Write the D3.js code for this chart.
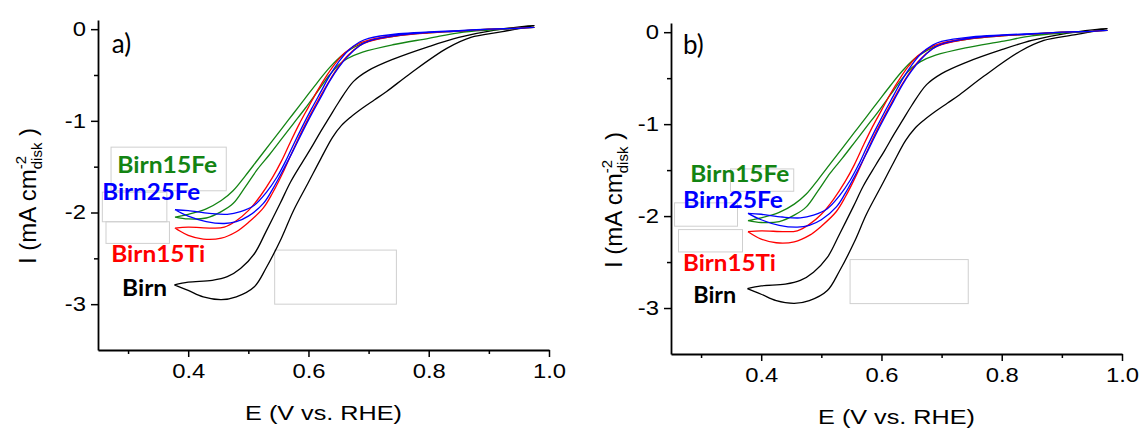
<!DOCTYPE html>
<html>
<head>
<meta charset="utf-8">
<script src="https://cdn.jsdelivr.net/npm/d3@7"></script>
<style>
body{margin:0;background:#fff;}
svg{display:block;}
</style>
</head>
<body>
<svg id="chart" width="1143" height="428"></svg>
<script>
// DATA - every CV loop is two branches, both listed from the low potential tip up to ~0.98 V
// points are [E (V vs RHE), I (mA cm-2 disk)]
const birnUpper = [[0.377,-2.79],[0.40,-2.76],[0.44,-2.74],[0.465,-2.70],[0.487,-2.61],[0.51,-2.45],[0.53,-2.20],[0.553,-1.90],[0.57,-1.67],[0.59,-1.45],[0.605,-1.29],[0.62,-1.12],[0.635,-0.96],[0.65,-0.80],[0.675,-0.57],[0.70,-0.45],[0.74,-0.33],[0.80,-0.19],[0.85,-0.09],[0.91,-0.01],[0.976,0.04]];
const birnLower = [[0.377,-2.79],[0.40,-2.85],[0.425,-2.92],[0.455,-2.95],[0.48,-2.92],[0.51,-2.81],[0.53,-2.60],[0.555,-2.28],[0.575,-1.98],[0.60,-1.67],[0.62,-1.42],[0.64,-1.18],[0.655,-1.05],[0.67,-0.96],[0.69,-0.86],[0.71,-0.77],[0.73,-0.68],[0.77,-0.48],[0.83,-0.21],[0.87,-0.09],[0.92,-0.03],[0.975,0.02]];
const ti15Upper = [[0.378,-2.17],[0.40,-2.16],[0.44,-2.17],[0.46,-2.16],[0.48,-2.09],[0.50,-1.98],[0.52,-1.82],[0.54,-1.62],[0.555,-1.44],[0.57,-1.23],[0.585,-1.03],[0.60,-0.85],[0.615,-0.67],[0.63,-0.51],[0.645,-0.37],[0.66,-0.26],[0.68,-0.17],[0.70,-0.12],[0.75,-0.06],[0.80,-0.035],[0.85,-0.02],[0.90,0.0],[0.95,0.01],[0.975,0.02]];
const ti15Lower = [[0.378,-2.17],[0.40,-2.25],[0.425,-2.29],[0.455,-2.28],[0.48,-2.21],[0.50,-2.11],[0.525,-1.95],[0.54,-1.79],[0.56,-1.53],[0.575,-1.31],[0.59,-1.10],[0.605,-0.91],[0.62,-0.73],[0.635,-0.56],[0.65,-0.41],[0.665,-0.29],[0.685,-0.18],[0.70,-0.135],[0.75,-0.07],[0.80,-0.04],[0.85,-0.02],[0.90,0.0],[0.95,0.01],[0.975,0.025]];
const fe25Upper = [[0.378,-1.97],[0.40,-1.98],[0.435,-2.01],[0.465,-2.02],[0.487,-1.99],[0.51,-1.92],[0.53,-1.78],[0.548,-1.61],[0.562,-1.44],[0.575,-1.26],[0.59,-1.06],[0.605,-0.87],[0.62,-0.69],[0.635,-0.51],[0.65,-0.36],[0.665,-0.24],[0.685,-0.14],[0.70,-0.10],[0.75,-0.05],[0.80,-0.03],[0.85,-0.015],[0.90,0.0],[0.95,0.01],[0.975,0.02]];
const fe25Lower = [[0.378,-1.97],[0.40,-2.04],[0.43,-2.10],[0.46,-2.12],[0.48,-2.10],[0.50,-2.04],[0.525,-1.90],[0.54,-1.75],[0.56,-1.51],[0.575,-1.32],[0.59,-1.12],[0.605,-0.93],[0.62,-0.75],[0.635,-0.57],[0.65,-0.42],[0.665,-0.30],[0.685,-0.18],[0.70,-0.13],[0.75,-0.065],[0.80,-0.035],[0.85,-0.02],[0.90,0.0],[0.95,0.01],[0.975,0.02]];
const fe15Upper = [[0.378,-2.05],[0.40,-2.02],[0.43,-1.96],[0.455,-1.87],[0.475,-1.76],[0.495,-1.60],[0.515,-1.43],[0.535,-1.26],[0.555,-1.09],[0.575,-0.92],[0.595,-0.75],[0.615,-0.58],[0.635,-0.42],[0.655,-0.29],[0.675,-0.20],[0.70,-0.13],[0.75,-0.07],[0.80,-0.04],[0.85,-0.02],[0.90,0.0],[0.95,0.01],[0.975,0.02]];
const fe15Lower = [[0.378,-2.05],[0.40,-2.07],[0.43,-2.06],[0.455,-1.99],[0.475,-1.90],[0.495,-1.72],[0.515,-1.53],[0.535,-1.37],[0.555,-1.20],[0.575,-1.03],[0.595,-0.86],[0.615,-0.68],[0.635,-0.50],[0.65,-0.39],[0.665,-0.32],[0.69,-0.25],[0.74,-0.17],[0.80,-0.10],[0.85,-0.04],[0.90,-0.01],[0.95,0.01],[0.975,0.02]];

const seriesNames = ["Birn15Fe", "Birn25Fe", "Birn15Ti", "Birn"];
const seriesColors = ["#138413", "#0000ff", "#ff0000", "#000000"];

const xTicksMajor = [0.4, 0.6, 0.8, 1.0];
const xTicksMinor = [0.3, 0.5, 0.7, 0.9];
const yTicksMajor = [0, -1, -2, -3];
const yTicksMinor = [-0.5, -1.5, -2.5];
const xDomain = [0.25, 1.0];
const yDomain = [-3.5, 0.1];

// loops in drawing order (black at the back, blue on top)
const loops = [
    {up: birnUpper, down: birnLower, color: seriesColors[3]},
    {up: fe15Upper, down: fe15Lower, color: seriesColors[0]},
    {up: ti15Upper, down: ti15Lower, color: seriesColors[2]},
    {up: fe25Upper, down: fe25Lower, color: seriesColors[1]}
];

// LAYOUT of both panels (label anchors and the faint empty boxes are in data units)
const panels = [
    {tag: "a)", left: 98, right: 549, top: 20, bottom: 350, ylabX: 36, ylabY: 264,
     tagPos: [0.273, -0.262],
     labelPos: [[0.282, -1.57], [0.257, -1.865], [0.272, -2.541], [0.290, -2.912]],
     labelW: [100, 98, 94, 45],
     boxes: [[0.2717, 0.4633, -1.287, -1.763], [0.2572, 0.3645, -1.778, -2.101], [0.2633, 0.3688, -2.101, -2.337], [0.5438, 0.7462, -2.410, -3.0]]},
    {tag: "b)", left: 671, right: 1122, top: 23, bottom: 354, ylabX: 622, ylabY: 268,
     tagPos: [0.27, -0.232],
     labelPos: [[0.282, -1.625], [0.270, -1.907], [0.270, -2.593], [0.287, -2.941]],
     labelW: [99, 100, 93, 43],
     boxes: [[0.3489, 0.4541, -1.487, -1.730], [0.2559, 0.3606, -1.856, -2.110], [0.2625, 0.3689, -2.147, -2.390], [0.5478, 0.7443, -2.473, -2.952]]}
];

const svg = d3.select("#chart");
const AXFONT = "'Liberation Sans', Arial, sans-serif";

// stretch text a bit sideways, the original figure is wider than tall
function stretch(sel, k){
    sel.each(function(){
        const w = this.getComputedTextLength();
        d3.select(this).attr("textLength", w * k).attr("lengthAdjust", "spacingAndGlyphs");
    });
}

function drawPanel(p){
    const x = d3.scaleLinear().domain(xDomain).range([p.left, p.right]);
    const y = d3.scaleLinear().domain(yDomain).range([p.bottom, p.top]);
    const g = svg.append("g");

    // faint empty boxes left over in the figure
    p.boxes.forEach(function(b){
        g.append("rect")
            .attr("x", x(b[0])).attr("y", y(b[2]))
            .attr("width", x(b[1]) - x(b[0]))
            .attr("height", y(b[3]) - y(b[2]))
            .attr("fill", "none").attr("stroke", "#cfcfcf").attr("stroke-width", 1);
    });

    // CV loops
    const line = d3.line()
        .x(d => x(d[0]))
        .y(d => y(d[1]))
        .curve(d3.curveCatmullRom.alpha(0.5));
    loops.forEach(function(l){
        g.append("path")
            .datum(l.up.concat(l.down.slice(0, -1).reverse()))
            .attr("d", line)
            .attr("fill", "none")
            .attr("stroke", l.color)
            .attr("stroke-width", 1.3)
            .attr("stroke-linejoin", "round");
    });

    // x axis
    const xa = g.append("g").attr("transform", "translate(0," + p.bottom + ")")
        .call(d3.axisBottom(x).tickValues(xTicksMajor).tickSize(7).tickSizeOuter(0).tickPadding(7).tickFormat(d3.format(".1f")));
    g.append("g").attr("transform", "translate(0," + p.bottom + ")")
        .call(d3.axisBottom(x).tickValues(xTicksMinor).tickSize(4).tickFormat(""))
        .select(".domain").remove();

    // y axis
    const ya = g.append("g").attr("transform", "translate(" + p.left + ",0)")
        .call(d3.axisLeft(y).tickValues(yTicksMajor).tickSize(7).tickSizeOuter(0).tickPadding(5).tickFormat(d => String(d)));
    g.append("g").attr("transform", "translate(" + p.left + ",0)")
        .call(d3.axisLeft(y).tickValues(yTicksMinor).tickSize(4).tickFormat(""))
        .select(".domain").remove();

    g.selectAll(".domain").attr("stroke-width", 1.8);
    g.selectAll(".tick line").attr("stroke-width", 1.5);
    [xa, ya].forEach(function(a){
        a.selectAll("text").attr("font-size", 20).attr("font-family", AXFONT).attr("fill", "#000");
        stretch(a.selectAll("text"), 1.19);
    });

    // x title
    const xt = g.append("text")
        .attr("x", (p.left + p.right) / 2).attr("y", p.bottom + 70)
        .attr("text-anchor", "middle")
        .attr("font-size", 21).attr("font-family", AXFONT)
        .text("E (V vs. RHE)");
    stretch(xt, 1.2);

    // y title with super- and subscript
    const yt = g.append("text")
        .attr("transform", "translate(" + p.ylabX + "," + p.ylabY + ") rotate(-90)")
        .attr("font-size", 24).attr("font-family", AXFONT);
    yt.append("tspan").text("I (mA cm");
    yt.append("tspan").attr("font-size", 15).attr("dy", -10).text("-2");
    yt.append("tspan").attr("font-size", 15).attr("dx", -13.3).attr("dy", 16).text("disk");
    yt.append("tspan").attr("dy", -6).text(" )");

    // panel tag
    g.append("text")
        .attr("x", x(p.tagPos[0])).attr("y", y(p.tagPos[1]))
        .attr("font-size", 26).attr("font-family", "Lato, 'Open Sans', sans-serif")
        .text(p.tag);

    // series labels
    seriesNames.forEach(function(name, i){
        g.append("text")
            .attr("x", x(p.labelPos[i][0])).attr("y", y(p.labelPos[i][1]))
            .attr("font-size", 23).attr("font-weight", "bold")
            .attr("font-family", "Lato, 'Open Sans', sans-serif")
            .attr("fill", seriesColors[i])
            .attr("textLength", p.labelW[i]).attr("lengthAdjust", "spacingAndGlyphs")
            .text(name);
    });
}

panels.forEach(drawPanel);
</script>
</body>
</html>
